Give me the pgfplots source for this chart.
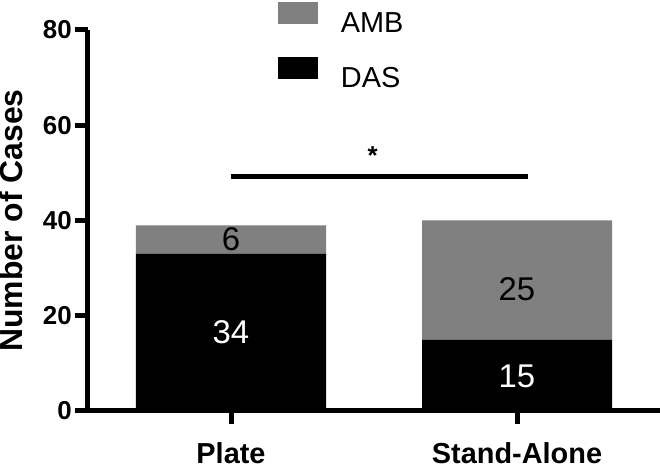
\documentclass[border=0pt]{standalone}
\usepackage{fontspec}
\setmainfont{Liberation Sans}
\usepackage{pgfplots}
\pgfplotsset{compat=1.18}

\definecolor{ambgray}{RGB}{128,128,128}

\begin{document}
\begin{tikzpicture}
\begin{axis}[
  width=572bp, height=381bp, scale only axis,
  ybar stacked, bar width=190bp,
  xmin=-0.5, xmax=1.5, ymin=0, ymax=80,
  xtick={0,1}, xticklabels={Plate,Stand-Alone},
  ytick={0,20,40,60,80},
  axis x line=bottom, axis y line=left,
  axis line style={-, line width=5bp},
  tick style={line width=5bp, black},
  major tick length=13bp, tick align=outside,
  /pgf/number format/assume math mode=true,
  yticklabel style={font=\bfseries\fontsize{26}{26}\selectfont, inner sep=0pt, xshift=-3bp},
  xticklabel style={font=\bfseries\fontsize{29}{29}\selectfont, inner sep=0pt, yshift=-18bp},
  ylabel={Number of Cases},
  every axis y label/.style={at={(axis description cs:-0.1136,0.5)}, rotate=90, anchor=south,
    inner sep=0pt, font=\bfseries\fontsize{32}{32}\selectfont},
  reverse legend,
  legend image code/.code={\fill[#1] (0bp,-1bp) rectangle (40bp,21bp);},
  legend style={draw=none, at={(0.332,1.0735)}, anchor=north west, inner sep=0pt, outer sep=0pt,
    font=\fontsize{29}{29}\selectfont, row sep=23bp,
    cells={anchor=west}, nodes={inner sep=0pt},
    /tikz/every odd column/.append style={column sep=23bp}},
  clip=false,
]
\addplot[fill=black, draw=none] coordinates {(0,33) (1,15)};
\addlegendentry{DAS}
\addplot[fill=ambgray, draw=none] coordinates {(0,6) (1,25)};
\addlegendentry{AMB}

\coordinate (lA) at (axis cs:0,16.5);
\coordinate (lB) at (axis cs:0,36);
\coordinate (lC) at (axis cs:1,25.5);
\coordinate (lD) at (axis cs:1,7.3);

\draw[line width=5bp] (axis cs:0,49.3) -- (axis cs:1.038,49.3);
\node[font=\bfseries\fontsize{26}{26}\selectfont, anchor=base, inner sep=0pt] at (axis cs:0.495,51.7) {*};
\end{axis}
\node[font=\fontsize{33}{33}\selectfont, text=white] at (lA) {34};
\node[font=\fontsize{33}{33}\selectfont, text=black] at (lB) {6};
\node[font=\fontsize{33}{33}\selectfont, text=black] at (lC) {25};
\node[font=\fontsize{33}{33}\selectfont, text=white] at (lD) {15};
\pgfresetboundingbox
\path[use as bounding box] ([xshift=-88bp,yshift=-53bp]current axis.south west)
  rectangle ([yshift=30bp]current axis.north east);
\end{tikzpicture}
\end{document}
